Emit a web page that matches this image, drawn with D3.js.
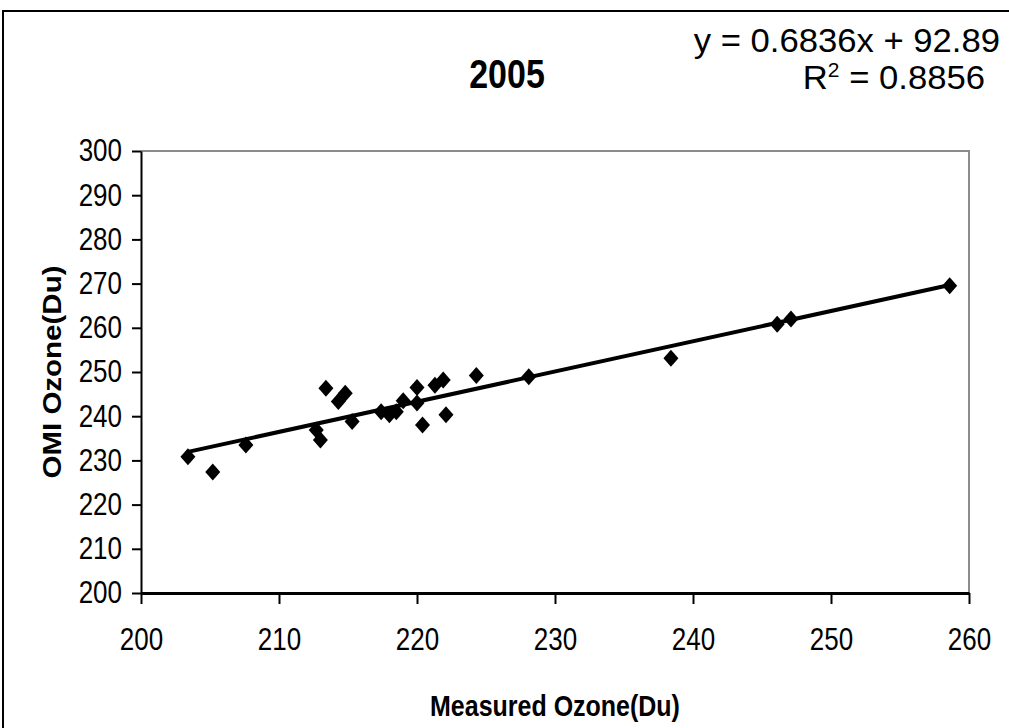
<!DOCTYPE html>
<html lang="en">
<head>
<meta charset="UTF-8">
<title>2005 Measured vs OMI Ozone</title>
<script src="https://cdn.jsdelivr.net/npm/d3@7"></script>
<style>
  body { margin: 0; background: #fff; }
  text { font-family: "Liberation Sans", Arial, sans-serif; fill: #000; }
</style>
</head>
<body>
<svg id="chart" width="1009" height="728"></svg>
<script>
// values
const measured = [203.4, 205.2, 207.6, 212.7, 213.0, 213.4, 214.3, 214.8, 215.3, 217.4,
                  218.0, 218.5, 219.0, 220.0, 220.0, 220.4, 221.3, 221.9, 222.1, 224.3,
                  228.1, 238.4, 246.1, 247.1, 258.6];
const omi = [230.8, 227.4, 233.5, 236.9, 234.6, 246.3, 243.3, 245.2, 238.8, 241.0,
             240.3, 241.0, 243.5, 246.5, 243.0, 238.0, 247.0, 248.2, 240.3, 249.2,
             248.9, 253.1, 260.8, 262.0, 269.5];
const xTicks = [200, 210, 220, 230, 240, 250, 260];
const yTicks = [200, 210, 220, 230, 240, 250, 260, 270, 280, 290, 300];
const slope = 0.6836, intercept = 92.89;
const eqText = 'y = 0.6836x + 92.89';
const r2Text = '0.8856';
const title = '2005';

const svg = d3.select('#chart');
const x = d3.scaleLinear().domain([200, 260]).range([141, 969]);
const y = d3.scaleLinear().domain([200, 300]).range([593, 151]);
const k = 1.18; // the picture is stretched vertically, so lettering looks tall

// outer chart border
svg.append('rect')
  .attr('x', 3).attr('y', 11).attr('width', 1030).attr('height', 740)
  .attr('fill', 'none').attr('stroke', '#000').attr('stroke-width', 2);

// plot area frame (grey top/right)
svg.append('path')
  .attr('d', `M${x(200)},${y(300)}H${x(260)}V${y(200)}`)
  .attr('fill', 'none').attr('stroke', '#8c8c8c').attr('stroke-width', 2);

// axes
const xAxis = svg.append('g')
  .attr('transform', `translate(0,${y(200)})`)
  .call(d3.axisBottom(x).tickValues(xTicks).tickSize(11).tickSizeOuter(0));
const yAxis = svg.append('g')
  .attr('transform', `translate(${x(200)},0)`)
  .call(d3.axisLeft(y).tickValues(yTicks).tickSize(9).tickSizeOuter(0));

xAxis.select('.domain').attr('stroke-width', 3).attr('stroke', '#000');
yAxis.select('.domain').attr('stroke-width', 2).attr('stroke', '#000');
svg.selectAll('.tick line').attr('stroke', '#000').attr('stroke-width', 2);
svg.selectAll('.tick text').style('font-size', '26px').attr('font-family', null);

xAxis.selectAll('.tick text')
  .attr('y', 0)
  .attr('dy', '0.71em')
  .attr('transform', `translate(0,35) scale(1,${k})`);
yAxis.selectAll('.tick text')
  .attr('x', -19)
  .attr('transform', `scale(1,${k})`);

// trendline over the data range
const xMin = d3.min(measured), xMax = d3.max(measured);
svg.append('line')
  .attr('x1', x(xMin)).attr('y1', y(slope * xMin + intercept))
  .attr('x2', x(xMax)).attr('y2', y(slope * xMax + intercept))
  .attr('stroke', '#000').attr('stroke-width', 4);

// diamond markers
const rx = 7.5, ry = 8.5;
svg.append('g').selectAll('path')
  .data(measured.map((m, i) => [m, omi[i]]))
  .join('path')
  .attr('d', `M0,${-ry}L${rx},0L0,${ry}L${-rx},0Z`)
  .attr('transform', d => `translate(${x(d[0])},${y(d[1])})`)
  .attr('fill', '#000');

// labels
function label(tx, ty, txt, size, weight, anchor, scale) {
  const t = svg.append('text')
    .attr('transform', `translate(${tx},${ty}) scale(${scale})`)
    .attr('text-anchor', anchor)
    .style('font-size', size + 'px')
    .style('font-weight', weight);
  if (txt) t.text(txt);
  return t;
}

label(507, 88, title, 34, 'bold', 'middle', `1,${k}`);

// trendline equation, upper right
label(1000, 52, eqText, 33, 'normal', 'end', '1.05,1');
const r2 = label(985, 89, null, 33, 'normal', 'end', '1.05,1');
r2.append('tspan').text('R');
r2.append('tspan').attr('dy', -12).style('font-size', '20px').text('2');
r2.append('tspan').attr('dy', 12).text(' = ' + r2Text);

label(555, 716, 'Measured Ozone(Du)', 25, 'bold', 'middle', `1,${k}`);
svg.append('text')
  .attr('transform', `translate(61,372) scale(1,${k}) rotate(-90)`)
  .attr('text-anchor', 'middle')
  .style('font-size', '25px')
  .style('font-weight', 'bold')
  .text('OMI Ozone(Du)');
</script>
</body>
</html>
